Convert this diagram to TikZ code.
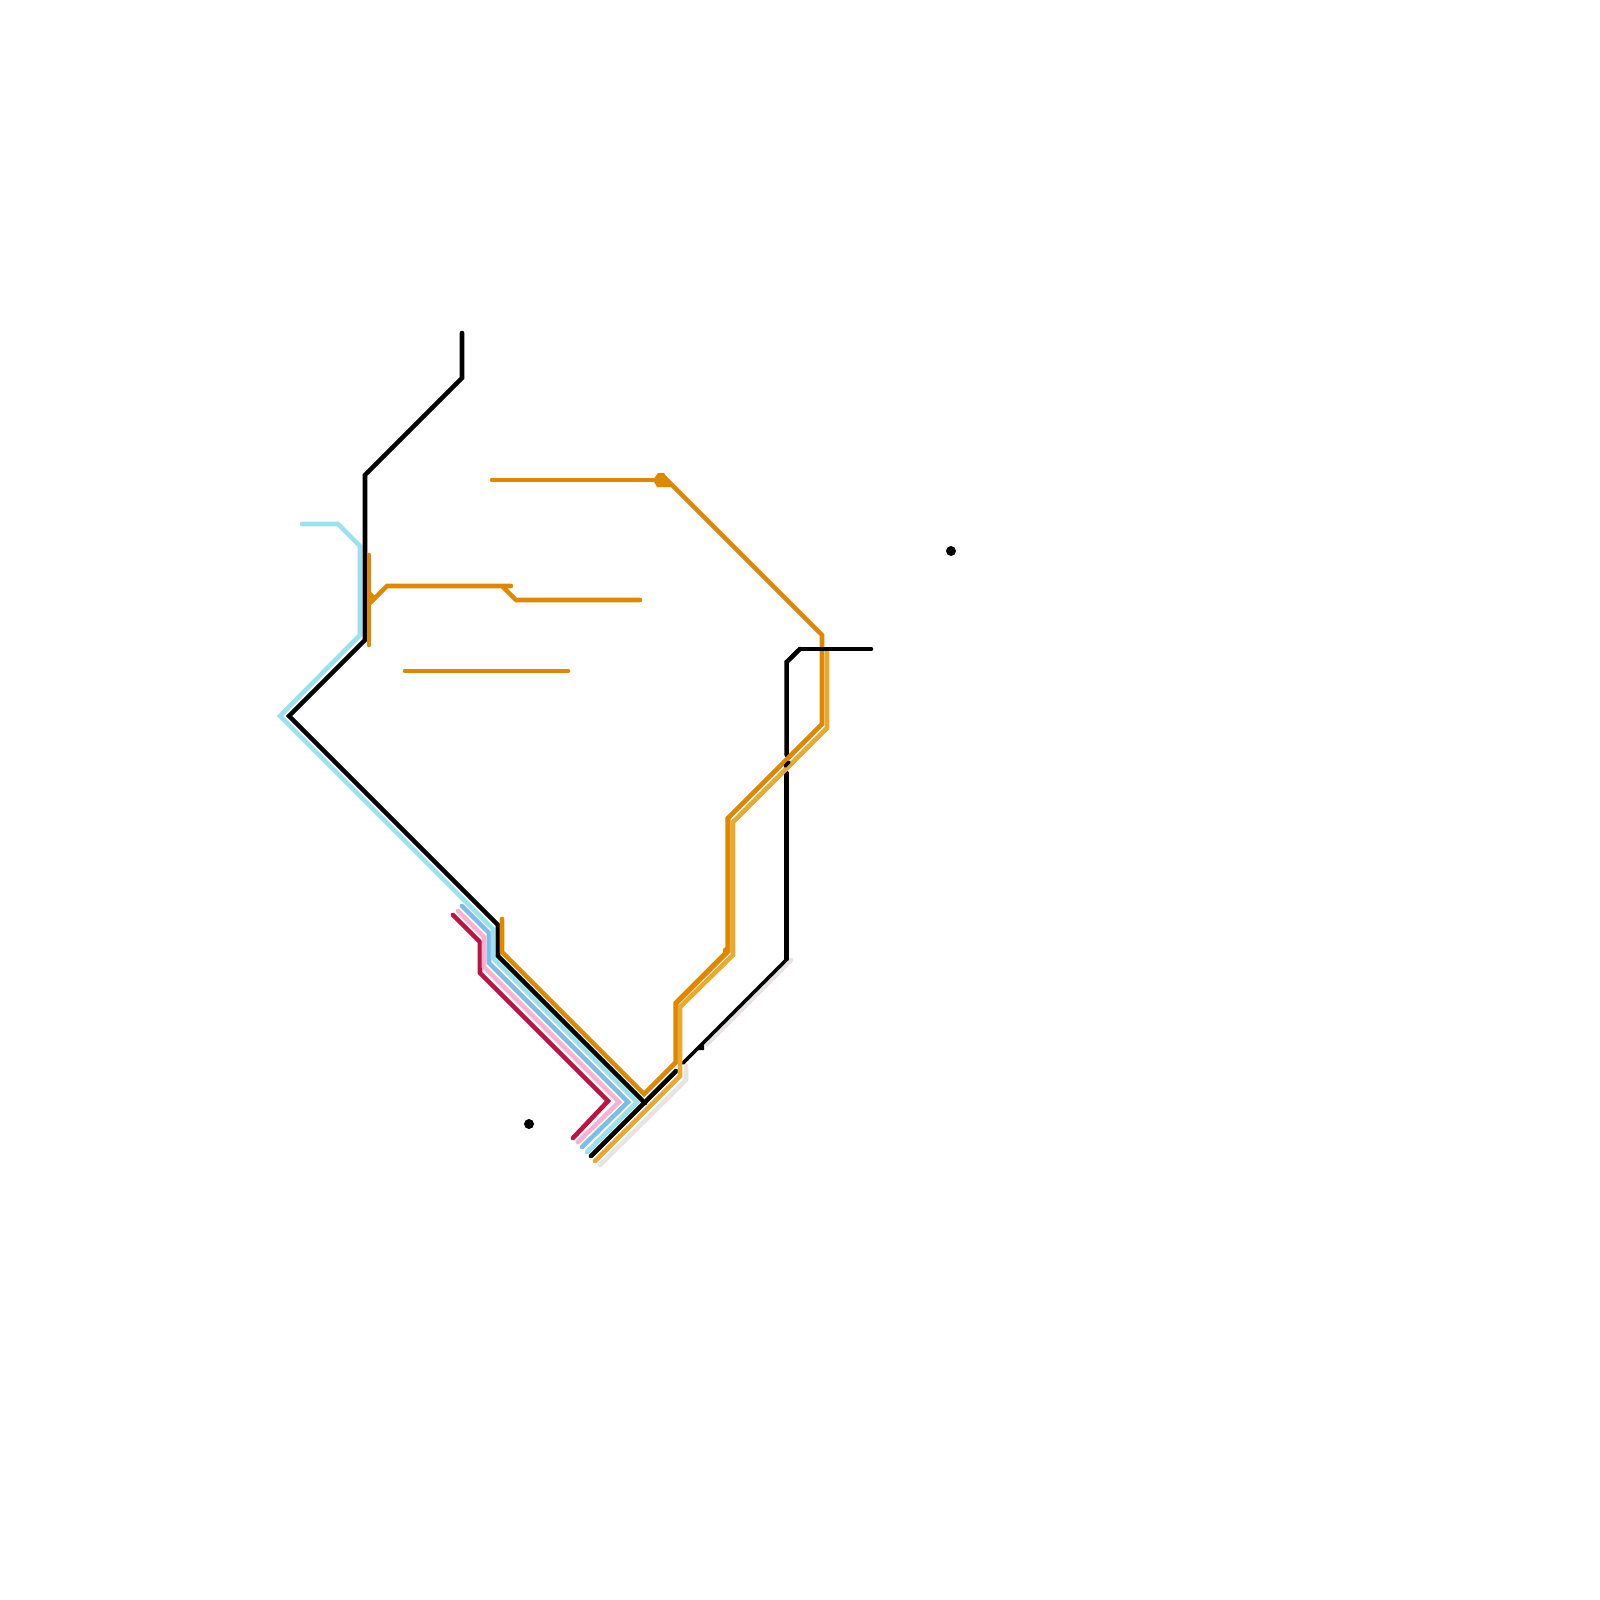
\documentclass[tikz,border=0pt]{standalone}
\definecolor{routeblack}{HTML}{000000}
\definecolor{routeorange}{HTML}{E08700}
\definecolor{routeamber}{HTML}{E9A82E}
\definecolor{routecyan}{HTML}{9BE1EE}
\definecolor{routeblue}{HTML}{7DBEE9}
\definecolor{routepink}{HTML}{F8B2D0}
\definecolor{routecrimson}{HTML}{BE1240}
\definecolor{routegrey}{HTML}{E8E3E5}
\tikzset{
    route/.style={line width=1.3pt, line cap=round, miter limit=6},
    thinroute/.style={route, line width=1pt},
    wideroute/.style={route, line width=1.5pt},
}
\begin{document}
\begin{tikzpicture}[x=0.01cm, y=-0.01cm]
    \useasboundingbox (0,0) rectangle (1600,1600);

    % grey shadow
    \draw[route, routegrey] (600,1165) -- (686,1080) -- (686,1066);
    \draw[route, routegrey] (707,1044) -- (791,960);

    % left bundle
    \draw[route, routecrimson] (453,915) -- (480,942) -- (480,973) -- (608,1101) -- (573,1138);
    \draw[route, routepink] (458,911) -- (484,937) -- (484,967) -- (619,1102) -- (578,1142);
    \draw[route, routeblue] (462,906) -- (489,933) -- (489,963) -- (628,1102) -- (582,1147);
    \draw[route, routecyan] (302,524) -- (338,524) -- (360,546) -- (360,635) -- (280,716) -- (493,929) -- (493,958) -- (637,1102) -- (587,1152);

    % black routes
    \draw[route, routeblack] (462,333) -- (462,378) -- (365,475) -- (365,640) -- (289,716) -- (498,925) -- (498,956) -- (645,1103);
    \draw[route, routeblack] (591,1156) -- (676,1071);
    \draw[thinroute, routeblack] (683,1063) -- (787,959);
    \draw[route, routeblack] (786.7,959) -- (786.7,773);
    \draw[route, routeblack] (786.7,755) -- (786.7,662) -- (800,649);
    \fill[routeblack] (696,1050) -- (704,1042) -- (704,1050) -- cycle;

    % orange routes
    \draw[route, routeorange] (502,919) -- (502,952) -- (644,1094) -- (676,1062);
    \draw[wideroute, routeorange] (676,1062) -- (676,1003) -- (728,951) -- (728,818);
    \draw[route, routeorange] (728,818) -- (822,724) -- (822,635) -- (665,478);
    \draw[route, routeorange] (492,480) -- (655,480);
    \fill[routeorange] (653,480) -- (658,473) -- (664,473) -- (673,487) -- (657,487) -- cycle;
    \fill[routeorange] (723,949) -- (728,945) -- (728,955) -- (723,955) -- cycle;
    \draw[route, routeorange] (369,555) -- (369,645);
    \draw[route, routeorange] (370,603) -- (387,586) -- (511,586);
    \draw[route, routeorange] (503,587) -- (516,600) -- (640,600);
    \fill[routeorange] (369,590) -- (374,595) -- (378,595) -- (369,605) -- cycle;
    \draw[route, routeorange] (405,671) -- (568,671);

    % amber route
    \draw[route, routeamber] (595,1161) -- (680,1076) -- (680,1007) -- (733,955) -- (733,822) -- (827,728) -- (827,652);

    % black cap over the orange
    \draw[route, routeblack] (800,649) -- (871,649);
    \draw[thinroute, routeblack] (785,766) -- (789,762);

    % stops
    \fill[routeblack] (951,551) circle (5);
    \fill[routeblack] (529,1124) circle (5);
\end{tikzpicture}
\end{document}
